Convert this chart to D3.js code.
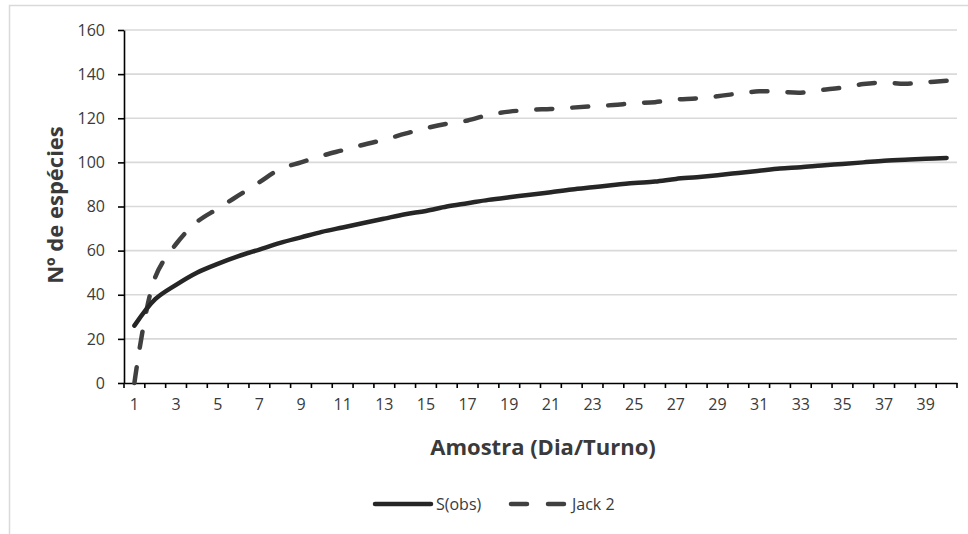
<!DOCTYPE html>
<html>
<head>
<meta charset="utf-8">
<script src="https://cdn.jsdelivr.net/npm/d3@7"></script>
<style>
  html, body { margin: 0; padding: 0; background: #fff; }
  svg { display: block; }
  text { font-family: "Open Sans", sans-serif; fill: #3a3a3a; }
</style>
</head>
<body>
<svg id="chart" width="968" height="534"></svg>
<script>
// ---- data ----
const categories = d3.range(1, 41);
const sObs = [26, 38, 44.5, 50, 54, 57.5, 60.5, 63.5, 66, 68.5,
              70.5, 72.5, 74.5, 76.5, 78, 80, 81.5, 83, 84.2, 85.3,
              86.5, 87.7, 88.7, 89.7, 90.6, 91.3, 92.5, 93.3, 94.2, 95.2,
              96.2, 97.2, 97.8, 98.6, 99.3, 100, 100.7, 101.2, 101.6, 102];
const jack2 = [0, 48, 63, 73, 79, 85, 91, 97, 100, 103,
               105.5, 108, 110.3, 113, 115.5, 117.5, 119, 121.5, 123, 123.8,
               124.2, 124.8, 125.4, 126, 126.8, 127.3, 128.5, 129, 130, 131.2,
               132.2, 132, 131.6, 132.8, 133.9, 135.5, 136.2, 135.6, 136.3, 137];
const yTicks = [0, 20, 40, 60, 80, 100, 120, 140, 160];
const xTickLabels = categories.filter(c => c % 2 === 1);
const seriesNames = ["S(obs)", "Jack 2"];
const xTitle = "Amostra (Dia/Turno)";
const yTitle = "Nº de espécies";

(function () {
// ---- layout ----
const svg = d3.select("#chart");
const mLeft = 124, mRight = 957, mTop = 30, mBottom = 383;

// outer chart border (light gray, only top/left visible)
svg.append("rect")
  .attr("x", 9.5).attr("y", 5.5)
  .attr("width", 1000).attr("height", 600)
  .attr("fill", "none").attr("stroke", "#d9d9d9").attr("stroke-width", 1.5);

const x = d3.scaleBand().domain(categories).range([mLeft, mRight]).padding(0);
const y = d3.scaleLinear().domain([0, 160]).range([mBottom, mTop]);
const cx = c => x(c) + x.bandwidth() / 2;

// gridlines
svg.append("g")
  .selectAll("line")
  .data(yTicks.filter(v => v > 0))
  .join("line")
  .attr("x1", mLeft).attr("x2", mRight)
  .attr("y1", d => y(d)).attr("y2", d => y(d))
  .attr("stroke", "#d9d9d9").attr("stroke-width", 1.6);

// y axis
const yAxis = svg.append("g")
  .attr("transform", `translate(${mLeft},0)`)
  .call(d3.axisLeft(y).tickValues(yTicks).tickSize(6).tickSizeOuter(0).tickPadding(13));
yAxis.select(".domain").attr("stroke", "#000").attr("stroke-width", 1.6);
yAxis.selectAll(".tick line").attr("stroke", "#000").attr("stroke-width", 1.6);
yAxis.selectAll("text").style("font-size", "16px").attr("fill", "#333")
  .style("font-family", "'Open Sans', sans-serif");

// x axis
const xAxis = svg.append("g")
  .attr("transform", `translate(0,${mBottom})`)
  .call(d3.axisBottom(x).tickValues(xTickLabels).tickSize(0).tickSizeOuter(0).tickPadding(16));
xAxis.select(".domain").attr("stroke", "#000").attr("stroke-width", 1.6);
xAxis.selectAll("text").style("font-size", "16px").attr("fill", "#333")
  .style("font-family", "'Open Sans', sans-serif");
// category boundary ticks
const boundaries = categories.map(c => x(c)).concat([x.range()[1]]);
svg.append("g")
  .selectAll("line")
  .data(boundaries)
  .join("line")
  .attr("x1", d => d).attr("x2", d => d)
  .attr("y1", mBottom).attr("y2", mBottom + 5)
  .attr("stroke", "#000").attr("stroke-width", 1.6);

// lines
const lineGen = d3.line()
  .x((d, i) => cx(categories[i]))
  .y(d => y(d))
  .curve(d3.curveCatmullRom.alpha(0.5));

svg.append("path")
  .datum(jack2)
  .attr("d", lineGen)
  .attr("fill", "none")
  .attr("stroke", "#404040")
  .attr("stroke-width", 4.5)
  .attr("stroke-linecap", "round")
  .attr("stroke-dasharray", "16,20");

svg.append("path")
  .datum(sObs)
  .attr("d", lineGen)
  .attr("fill", "none")
  .attr("stroke", "#262626")
  .attr("stroke-width", 4.5)
  .attr("stroke-linecap", "round");

// axis titles
svg.append("text")
  .attr("x", 543).attr("y", 455)
  .attr("text-anchor", "middle")
  .style("font-size", "22px").style("font-weight", "bold")
  .attr("fill", "#111")
  .text(xTitle);

svg.append("text")
  .attr("transform", "translate(63,205) rotate(-90)")
  .attr("text-anchor", "middle")
  .style("font-size", "22px").style("font-weight", "bold")
  .attr("fill", "#111")
  .text(yTitle);

// legend
const ly = 504;
svg.append("line")
  .attr("x1", 375).attr("x2", 431).attr("y1", ly).attr("y2", ly)
  .attr("stroke", "#262626").attr("stroke-width", 4.5).attr("stroke-linecap", "round");
svg.append("text")
  .attr("x", 436).attr("y", ly + 6)
  .style("font-size", "16px").attr("fill", "#333")
  .text(seriesNames[0]);
svg.append("line")
  .attr("x1", 511).attr("x2", 564).attr("y1", ly).attr("y2", ly)
  .attr("stroke", "#404040").attr("stroke-width", 4.5).attr("stroke-linecap", "round")
  .attr("stroke-dasharray", "16,21");
svg.append("text")
  .attr("x", 572).attr("y", ly + 6)
  .style("font-size", "16px").attr("fill", "#333")
  .text(seriesNames[1]);
})();
</script>
</body>
</html>
